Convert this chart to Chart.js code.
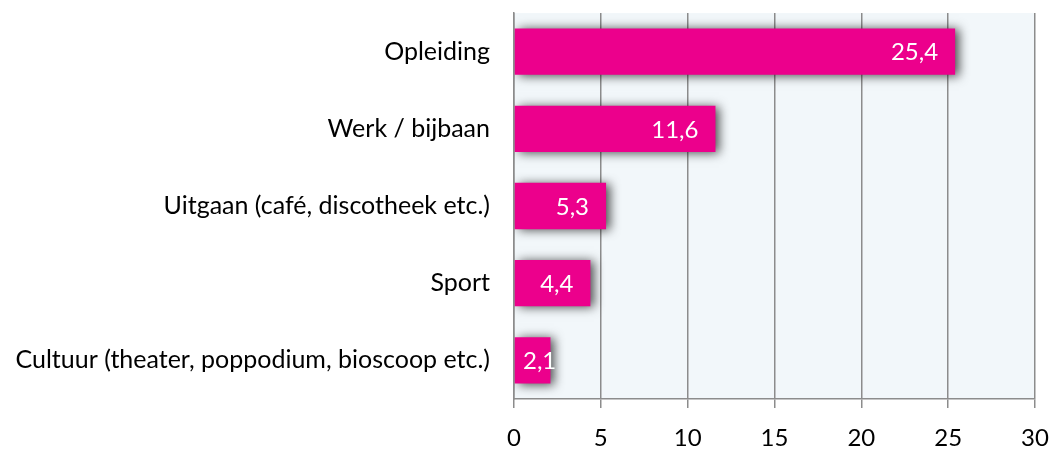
<!DOCTYPE html>
<html>
<head>
<meta charset="utf-8">
<script src="https://cdn.jsdelivr.net/npm/chart.js@4/dist/chart.umd.min.js"></script>
<style>
  html, body { margin: 0; padding: 0; background: #fff; }
  #wrap { position: relative; width: 1051px; height: 453px; }
</style>
</head>
<body>
<div id="wrap"><canvas id="chart"></canvas></div>
<script>
const categories = [
  "Opleiding",
  "Werk / bijbaan",
  "Uitgaan (café, discotheek etc.)",
  "Sport",
  "Cultuur (theater, poppodium, bioscoop etc.)"
];
const values = [25.4, 11.6, 5.3, 4.4, 2.1];
const tickValues = [0, 5, 10, 15, 20, 25, 30];

const FONT = "Lato, 'Open Sans', sans-serif";

const plotBg = {
  id: "plotBg",
  beforeDraw(chart) {
    const { ctx, chartArea: a } = chart;
    ctx.save();
    ctx.fillStyle = "#F2F7FA";
    ctx.fillRect(a.left, a.top, a.right - a.left, a.bottom - a.top);
    ctx.restore();
  }
};

const barShadow = {
  id: "barShadow",
  beforeDatasetsDraw(chart) {
    const ctx = chart.ctx;
    ctx.save();
    ctx.shadowColor = "rgba(0,0,0,0.7)";
    ctx.shadowBlur = 10;
    ctx.shadowOffsetX = 4;
    ctx.shadowOffsetY = 1;
  },
  afterDatasetsDraw(chart) {
    chart.ctx.restore();
  }
};

const valueLabels = {
  id: "valueLabels",
  afterDatasetsDraw(chart) {
    const { ctx } = chart;
    const x0 = chart.scales.x.getPixelForValue(0);
    const meta = chart.getDatasetMeta(0);
    ctx.save();
    ctx.font = "24px " + FONT;
    ctx.fillStyle = "#ffffff";
    ctx.textBaseline = "middle";
    ctx.textAlign = "left";
    meta.data.forEach((bar, i) => {
      const txt = values[i].toFixed(1).replace(".", ",");
      const w = ctx.measureText(txt).width;
      const left = Math.max(bar.x - 17 - w, x0 + 9);
      ctx.fillText(txt, left, bar.y + 1);
    });
    ctx.restore();
  }
};

new Chart(document.getElementById("chart"), {
  type: "bar",
  data: {
    labels: categories,
    datasets: [{
      data: values,
      backgroundColor: "#EC008C",
      borderWidth: 0,
      barPercentage: 0.6,
      categoryPercentage: 1.0
    }]
  },
  options: {
    indexAxis: "y",
    responsive: true,
    maintainAspectRatio: false,
    animation: false,
    layout: { padding: { top: 13, right: 16, left: 0, bottom: 0 } },
    plugins: {
      legend: { display: false },
      tooltip: { enabled: false }
    },
    scales: {
      x: {
        min: 0,
        max: 30,
        afterBuildTicks(scale) {
          scale.ticks = tickValues.map(v => ({ value: v }));
        },
        afterFit(scale) {
          scale.height = 54;
          scale.paddingLeft = 0;
          scale.paddingRight = 0;
        },
        grid: {
          color: "#8C8C8C",
          lineWidth: 1.5,
          tickLength: 9,
          drawOnChartArea: true
        },
        border: { display: true, color: "#8C8C8C", width: 1.5 },
        ticks: {
          color: "#000",
          padding: 16,
          font: { family: FONT, size: 24 }
        }
      },
      y: {
        afterFit(scale) {
          scale.width = 514;
          scale.paddingTop = 0;
          scale.paddingBottom = 0;
        },
        grid: { display: false },
        border: { display: true, color: "#8C8C8C", width: 1.5 },
        ticks: {
          color: "#000",
          padding: 16,
          font: { family: FONT, size: 25 }
        }
      }
    }
  },
  plugins: [plotBg, barShadow, valueLabels]
});
</script>
</body>
</html>
